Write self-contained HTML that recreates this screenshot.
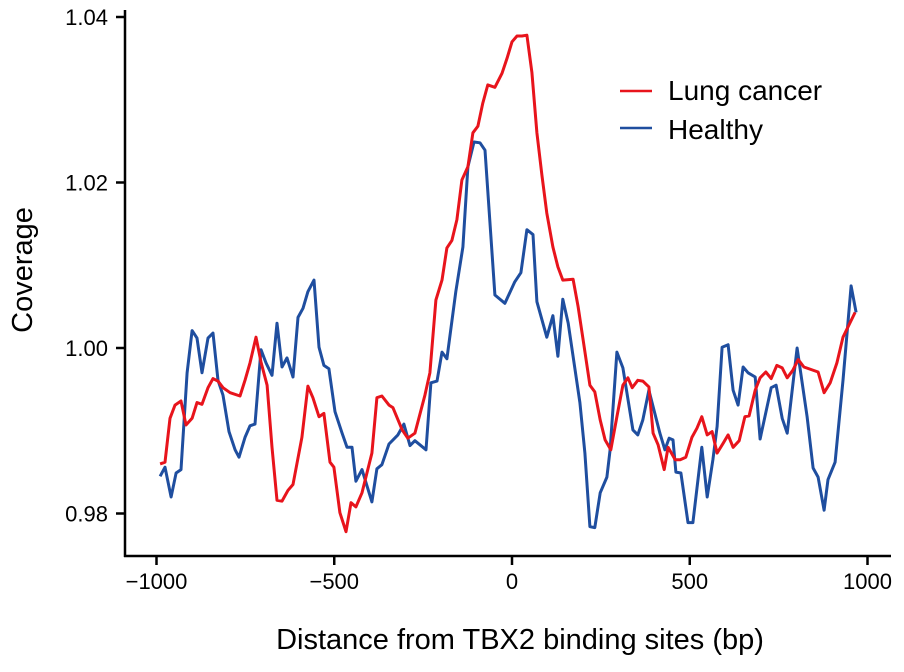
<!DOCTYPE html>
<html><head><meta charset="utf-8"><style>
body{margin:0;background:#fff;}
svg{display:block;font-family:"Liberation Sans",Arial,sans-serif;}
</style></head><body>
<svg id="chart" width="904" height="672" viewBox="0 0 904 672" xmlns="http://www.w3.org/2000/svg">
<g id="axes"></g>
<g id="series"></g>
<g id="legend">
  <line x1="620" y1="91" x2="652" y2="91" stroke="#e8141c" stroke-width="2.5"/>
  <text x="668" y="100" font-size="28">Lung cancer</text>
  <line x1="620" y1="128" x2="652" y2="128" stroke="#1f4e9f" stroke-width="2.5"/>
  <text x="668" y="139" font-size="28">Healthy</text>
</g>
<text x="520" y="649" font-size="29" text-anchor="middle">Distance from TBX2 binding sites (bp)</text>
<text transform="translate(32,270) rotate(-90)" font-size="29" text-anchor="middle">Coverage</text>
</svg>
<script>
const xTicks=[-1000,-500,0,500,1000];
const xTickLabels=["\u22121000","\u2212500","0","500","1000"];
const yTicks=[0.98,1.00,1.02,1.04];
const yTickLabels=["0.98","1.00","1.02","1.04"];
const lungX=[-990,-976,-962,-948,-931,-917,-900,-886,-872,-855,-841,-827,-813,-793,-765,-751,-737,-720,-706,-689,-675,-661,-647,-630,-616,-591,-574,-560,-543,-529,-512,-501,-484,-467,-453,-439,-422,-394,-380,-366,-346,-335,-309,-293,-273,-245,-231,-214,-197,-183,-169,-155,-141,-124,-110,-96,-82,-68,-48,-28,-14,0,14,28,42,56,70,84,98,115,129,143,172,186,200,219,233,248,262,278,295,312,326,338,354,368,385,397,411,428,439,459,473,489,506,520,534,549,563,577,594,608,622,639,655,667,684,698,714,729,745,760,774,790,805,821,861,878,895,914,931,965];
const lungY=[0.9860,0.9862,0.9915,0.9931,0.9936,0.9907,0.9915,0.9934,0.9932,0.9952,0.9963,0.9960,0.9952,0.9946,0.9942,0.9961,0.9982,1.0013,0.9983,0.9955,0.9880,0.9816,0.9815,0.9828,0.9835,0.9892,0.9954,0.9940,0.9917,0.9921,0.9862,0.9856,0.9801,0.9778,0.9813,0.9808,0.9825,0.9873,0.9940,0.9942,0.9931,0.9928,0.9901,0.9891,0.9897,0.9943,0.9970,1.0058,1.0082,1.0121,1.0130,1.0155,1.0203,1.0219,1.0260,1.0268,1.0296,1.0318,1.0315,1.0332,1.0350,1.0370,1.0377,1.0377,1.0378,1.0333,1.0260,1.0209,1.0163,1.0122,1.0098,1.0082,1.0083,1.0050,1.0010,0.9955,0.9947,0.9913,0.9889,0.9877,0.9917,0.9955,0.9964,0.9952,0.9961,0.9960,0.9953,0.9897,0.9883,0.9853,0.9880,0.9865,0.9865,0.9868,0.9892,0.9903,0.9917,0.9895,0.9899,0.9873,0.9885,0.9895,0.9880,0.9888,0.9917,0.9918,0.9949,0.9964,0.9971,0.9963,0.9979,0.9976,0.9964,0.9973,0.9986,0.9977,0.9971,0.9946,0.9958,0.9982,1.0013,1.0043];
const healthyX=[-990,-976,-959,-945,-931,-914,-900,-886,-872,-855,-841,-827,-813,-796,-779,-768,-751,-737,-723,-706,-692,-675,-661,-647,-633,-616,-602,-588,-574,-557,-543,-529,-515,-498,-478,-464,-450,-439,-422,-394,-380,-366,-346,-321,-304,-287,-273,-242,-228,-211,-197,-183,-158,-138,-124,-107,-90,-76,-48,-20,8,25,42,59,70,87,98,115,129,143,158,191,205,219,233,248,267,276,295,312,340,354,368,385,416,430,442,453,461,475,495,509,534,549,565,577,591,608,622,636,650,664,684,698,729,743,760,774,802,830,847,861,878,889,909,931,954,968];
const healthyY=[0.9845,0.9856,0.9820,0.9849,0.9853,0.9970,1.0021,1.0012,0.9970,1.0012,1.0018,0.9961,0.9943,0.9899,0.9877,0.9868,0.9892,0.9906,0.9908,0.9998,0.9982,0.9967,1.0030,0.9977,0.9988,0.9965,1.0037,1.0048,1.0068,1.0082,1.0001,0.9979,0.9975,0.9923,0.9897,0.9880,0.9880,0.9839,0.9853,0.9814,0.9854,0.9859,0.9884,0.9895,0.9908,0.9882,0.9888,0.9877,0.9958,0.9960,0.9995,0.9987,1.0068,1.0122,1.0219,1.0249,1.0248,1.0239,1.0064,1.0054,1.0080,1.0091,1.0143,1.0137,1.0056,1.0030,1.0013,1.0039,0.9990,1.0059,1.0030,0.9934,0.9873,0.9784,0.9783,0.9825,0.9844,0.9877,0.9995,0.9976,0.9901,0.9895,0.9913,0.9949,0.9897,0.9877,0.9891,0.9889,0.9850,0.9849,0.9789,0.9789,0.9880,0.9820,0.9865,0.9905,1.0001,1.0004,0.9949,0.9931,0.9977,0.9970,0.9965,0.9890,0.9952,0.9955,0.9915,0.9897,1.0000,0.9917,0.9855,0.9844,0.9804,0.9841,0.9862,0.9961,1.0075,1.0043];

const NS="http://www.w3.org/2000/svg";
function xS(v){return 512+v*0.3555;}
function yS(v){return 348-(v-1)*8275;}
const axes=document.getElementById('axes');
const series=document.getElementById('series');
function mk(tag,attrs,parent){const e=document.createElementNS(NS,tag);for(const k in attrs)e.setAttribute(k,attrs[k]);parent.appendChild(e);return e;}

const ya=mk('line',{x1:125,y1:10,x2:125,y2:557,stroke:'#000','stroke-width':2.5},axes);


const xa=mk('line',{x1:124,y1:556,x2:891,y2:556,stroke:'#000','stroke-width':2.5},axes);



xTicks.forEach((t,i)=>{
  const x=xS(t);
  const tk=mk('line',{x1:x,y1:556,x2:x,y2:565,stroke:'#000','stroke-width':2.5},axes);
  
  
  const lb=mk('text',{x:x,y:589,'font-size':22,'text-anchor':'middle'},axes);
  lb.textContent=xTickLabels[i];
  
  
});
yTicks.forEach((t,i)=>{
  const y=yS(t);
  const tk=mk('line',{x1:116,y1:y,x2:125,y2:y,stroke:'#000','stroke-width':2.5},axes);
  
  
  const lb=mk('text',{x:108,y:y+8,'font-size':22,'text-anchor':'end'},axes);
  lb.textContent=yTickLabels[i];
  
  
});
function line(xs,ys,color,name){
  const d=xs.map((v,i)=>(i?'L':'M')+xS(v).toFixed(1)+' '+yS(ys[i]).toFixed(1)).join(' ');
  const p=mk('path',{d:d,fill:'none',stroke:color,'stroke-width':3,'stroke-linejoin':'round'},series);
  
  
}
line(healthyX,healthyY,'#1f4e9f','healthy-line');
line(lungX,lungY,'#e8141c','lung-cancer-line');
</script>
</body></html>
